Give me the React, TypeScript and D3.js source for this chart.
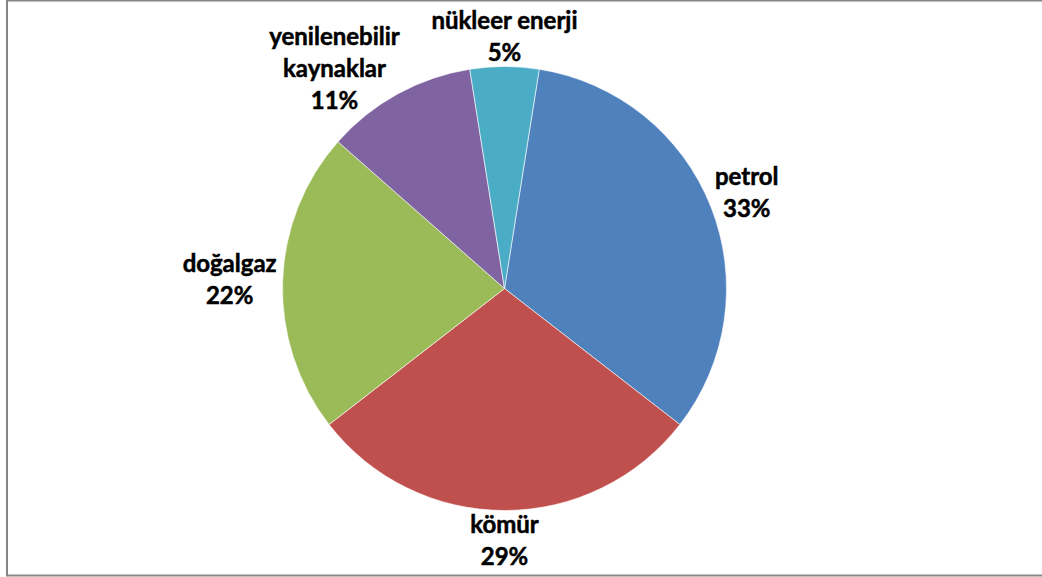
import React, { useEffect, useRef } from 'react';
import * as d3 from 'd3';

const categories = ['petrol', 'kömür', 'doğalgaz', 'yenilenebilir kaynaklar', 'nükleer enerji'];
const values = [33, 29, 22, 11, 5];
const labelLines = [['petrol'], ['kömür'], ['doğalgaz'], ['yenilenebilir', 'kaynaklar'], ['nükleer enerji']];
const colors = ['#4F81BD', '#C0504D', '#9BBB59', '#8064A2', '#4BACC6'];

const width = 1042;
const height = 577;
const cx = 504.5;
const cy = 288.5;
const radius = 222;
const lineHeight = 32;
const padX = 8;
const firstAngle = 9; // degrees, rotation of first slice

type Box = { x: number; y: number; w: number; h: number };

export default function App() {
  const ref = useRef<SVGSVGElement>(null);

  useEffect(() => {
    const svg = d3.select(ref.current);
    svg.selectAll('*').remove();

    svg.append('rect')
      .attr('x', 7)
      .attr('y', 0.5)
      .attr('width', width + 10)
      .attr('height', 575)
      .attr('fill', '#fff')
      .attr('stroke', '#868686')
      .attr('stroke-width', 2);

    const data = categories.map((c, i) => ({ name: c, value: values[i], lines: [...labelLines[i], values[i] + '%'], color: colors[i] }));

    const start = (firstAngle * Math.PI) / 180;
    const pie = d3.pie<any>()
      .sort(null)
      .value(d => d.value)
      .startAngle(start)
      .endAngle(start + 2 * Math.PI);

    const arc = d3.arc<any>().innerRadius(0).outerRadius(radius);
    const arcs = pie(data);

    svg.append('g')
      .attr('transform', `translate(${cx},${cy})`)
      .selectAll('path')
      .data(arcs)
      .enter().append('path')
      .attr('d', arc)
      .attr('fill', d => d.data.color)
      .attr('stroke', '#fff')
      .attr('stroke-width', 0.6);

    // outside-end labels: every text line keeps clear of the pie,
    // later slices give way to labels already placed
    const labels = svg.append('g');
    const placed: Box[] = [];

    const clearance = (x: number, y: number, widths: number[]) => {
      const n = widths.length;
      let m = Infinity;
      widths.forEach((wi, i) => {
        const x0 = x - wi / 2 - padX, x1 = x + wi / 2 + padX;
        const y0 = y + (i - n / 2) * lineHeight, y1 = y0 + lineHeight;
        const nx = Math.max(x0, Math.min(cx, x1));
        const ny = Math.max(y0, Math.min(cy, y1));
        m = Math.min(m, Math.hypot(nx - cx, ny - cy));
      });
      return m;
    };

    const spot = (a: number, widths: number[]) => {
      const s = Math.sin(a), c = Math.cos(a);
      let lo = 0, hi = 500;
      for (let k = 0; k < 30; k++) {
        const mid = (lo + hi) / 2;
        if (clearance(cx + s * mid, cy - c * mid, widths) >= radius - 2) hi = mid; else lo = mid;
      }
      const h = widths.length * lineHeight;
      const x = cx + s * hi;
      let y = cy - c * hi;
      y = Math.max(y, 4 + h / 2);
      y = Math.min(y, height - 4 - h / 2);
      return { x, y };
    };
    const hits = (b: Box) => placed.find(p =>
      Math.abs(p.x - b.x) < (p.w + b.w) / 2 + 14 && Math.abs(p.y - b.y) < (p.h + b.h) / 2);

    arcs.slice().reverse().forEach(a => {
      const text = labels.append('text')
        .attr('font-family', 'Lato, sans-serif')
        .attr('font-weight', 'bold')
        .attr('font-size', 24)
        .attr('fill', '#000')
        .attr('stroke', '#000')
        .attr('stroke-width', 0.5)
        .attr('text-anchor', 'middle');
      const n = a.data.lines.length;
      const spans = a.data.lines.map((l: string) => text.append('tspan').text(l));
      const widths: number[] = spans.map((t: any) => (t.node() as SVGTextContentElement).getComputedTextLength());
      const w = Math.max(...widths) + 2 * padX;
      const h = n * lineHeight;

      let ang = (a.startAngle + a.endAngle) / 2;
      let pos = spot(ang, widths);
      let other = hits({ ...pos, w, h });
      let steps = 0;
      while (other && steps < 120) {
        ang += (pos.x < other.x ? -1 : 1) * Math.PI / 360;
        pos = spot(ang, widths);
        other = hits({ ...pos, w, h });
        steps++;
      }
      placed.push({ ...pos, w, h });

      spans.forEach((t: any, i: number) => {
        t.attr('x', pos.x).attr('y', pos.y + 8 + (i - (n - 1) / 2) * lineHeight);
      });
    });
  }, []);

  return (
    <svg ref={ref} width={width} height={height} style={{ position: 'absolute', left: 0, top: 0, background: '#fff' }} />
  );
}
